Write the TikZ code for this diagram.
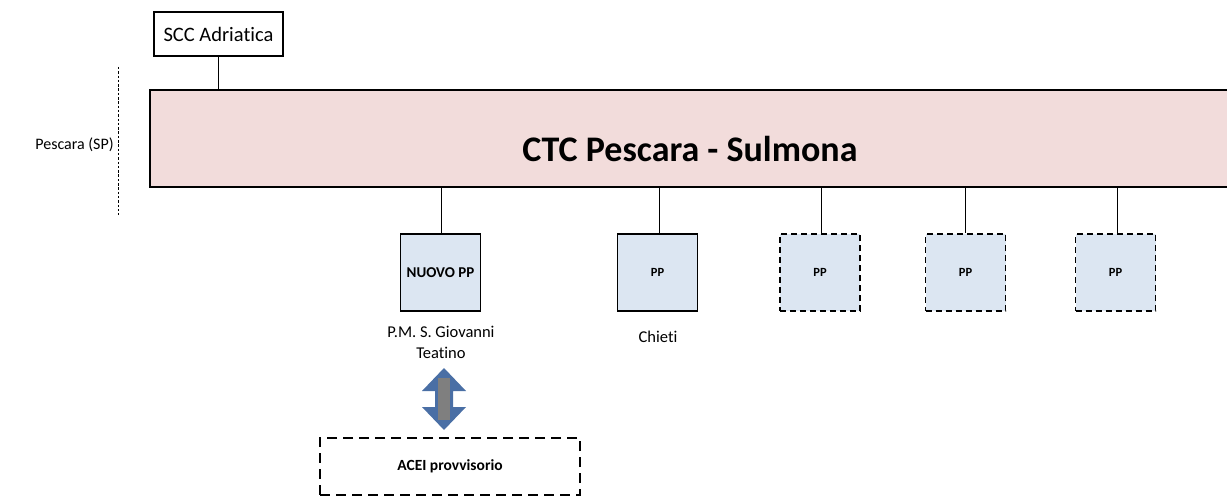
\documentclass[tikz,border=0pt]{standalone}
\usepackage{fontspec}
\setmainfont[Ligatures=NoCommon]{Carlito}
\definecolor{ctcpink}{HTML}{F2DCDB}
\definecolor{ppblue}{HTML}{DCE6F2}
\definecolor{arrblue}{HTML}{4A6FA5}
\definecolor{arrgrey}{HTML}{7F7F7F}
\tikzset{
  box/.style={draw=black, line width=1.3pt, inner sep=0pt},
  ppbox/.style={box, fill=ppblue, minimum width=80pt, minimum height=77pt, font=\fontsize{12.5}{15}\selectfont\bfseries},
  ppdash/.style={ppbox, dash pattern=on 6pt off 4pt},
  link/.style={draw=black, line width=0.6pt},
  lbl/.style={font=\fontsize{16.5}{20}\selectfont, align=center, inner sep=0pt}
}
\begin{document}
\begin{tikzpicture}[x=1pt, y=-1pt]
\useasboundingbox (0,0) rectangle (1227,500);
\clip (0,0) rectangle (1227,500);
\node[box, fill=ctcpink, minimum width=1080pt, minimum height=97pt, font=\fontsize{36}{42}\selectfont\bfseries] (ctc) at (690,138.5) {\raisebox{-23.5pt}[0pt][0pt]{CTC Pescara - Sulmona}};
\node[box, fill=white, minimum width=129pt, minimum height=44pt, font=\fontsize{20.5}{24}\selectfont] (scc) at (218.5,34) {SCC Adriatica};
\draw[link] (scc.south) -- (scc.south |- ctc.north);
\node[lbl, font=\fontsize{16}{19}\selectfont] (pesc) at (74.5,145) {Pescara (SP)};
\coordinate (dtop) at (118,67);
\coordinate (dbot) at (118,215);
\draw[line width=0.9pt, dash pattern=on 2.5pt off 1.8pt] (dtop) -- (dbot);
\node[ppbox, font=\fontsize{15}{18}\selectfont\bfseries] (nuovo) at (440.5,272.5) {NUOVO PP};
\node[ppbox] (chieti) at (657.5,272.5) {PP};
\node[ppdash] (pp3) at (820,272.5) {PP};
\node[ppdash] (pp4) at (965.5,272.5) {PP};
\node[ppdash] (pp5) at (1115.5,272.5) {PP};
\foreach \n/\x in {nuovo/441, chieti/659, pp3/821, pp4/965, pp5/1117}
  \draw[link] (\x,187) -- (\n.north -| {(\x,0)});
\node[lbl] (pmlbl) at (441,342) {P.M. S. Giovanni\\[1pt]Teatino};
\node[lbl] (chlbl) at (658,337) {Chieti};
\node[box, dash pattern=on 10pt off 6pt, minimum width=260pt, minimum height=57pt, font=\fontsize{15.5}{18}\selectfont\bfseries] (acei) at (450,466.5) {ACEI provvisorio};
% double arrow
\coordinate (atop) at (444,368);
\coordinate (abot) at (444,430);
\fill[arrblue] (atop) -- ++(22,23) -- ++(-13,0) -- ++(0,16) -- ++(13,0) -- (abot) -- ++(-22,-23) -- ++(13,0) -- ++(0,-16) -- ++(-13,0) -- cycle;
\fill[arrgrey] (438,378) -- (450,378) -- (450,420) -- (438,420) -- cycle;
\end{tikzpicture}
\end{document}
